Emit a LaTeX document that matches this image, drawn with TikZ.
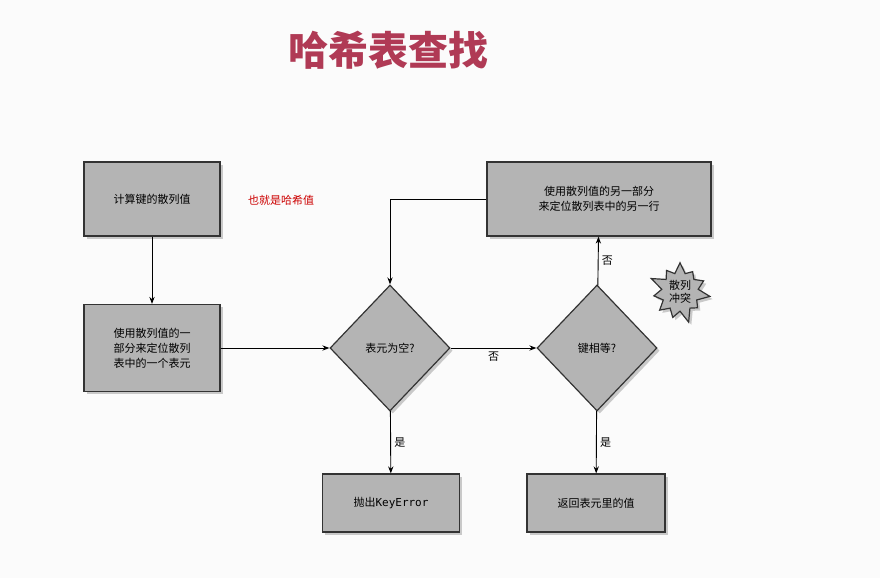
\documentclass[tikz,border=0pt]{standalone}
\usepackage{fontspec}
\setmainfont{Noto Sans CJK SC}
\setmonofont{DejaVu Sans Mono}
\usetikzlibrary{shapes.geometric,shapes.symbols,shadows,arrows.meta}
\definecolor{boxgray}{HTML}{B4B4B4}
\definecolor{titlered}{HTML}{B03A55}
\tikzset{
  box/.style = {draw=black!80, line width=1.2pt, fill=boxgray, drop shadow={opacity=0.4}, align=center, font=\fontsize{11}{15}\selectfont},
  choice/.style = {draw=black!80, line width=1.2pt, fill=boxgray, diamond, aspect=0.95, minimum width=120pt, minimum height=126pt, inner sep=0pt, drop shadow={opacity=0.4}, font=\fontsize{11}{15}\selectfont},
  flow/.style = {-{Stealth[length=7pt]}, line width=0.9pt},
  lbl/.style = {font=\fontsize{11}{13}\selectfont}
}
\begin{document}
\begin{tikzpicture}[x=1pt,y=-1pt]
\useasboundingbox[fill=white!97!gray] (0,0) rectangle (880,578);
\node[text=titlered, font=\bfseries\fontsize{40}{44}\selectfont] (title) at (388,50) {哈希表查找};

\node[box, minimum width=136pt, minimum height=74pt] (hash) at (152,199) {计算键的散列值};
\node[text=red!80!black, font=\fontsize{11}{13}\selectfont] (note) at (281,200) {也就是哈希值};
\node[box, minimum width=136pt, minimum height=87pt] (locate) at (152,348) {使用散列值的一\\部分来定位散列\\表中的一个表元};
\node[choice] (empty) at (390,348) {表元为空?};
\node[choice] (equal) at (597,348) {键相等?};
\node[box, minimum width=224pt, minimum height=74pt] (other) at (599,199) {使用散列值的另一部分\\来定位散列表中的另一行};
\node[box, starburst, starburst points=11, starburst point height=14pt, inner sep=2pt, lbl] (clash) at (680,292) {散列\\冲突};
\node[box, minimum width=137pt, minimum height=58pt] (error) at (391,503) {抛出\texttt{KeyError}};
\node[box, minimum width=138pt, minimum height=58pt] (value) at (596,503) {返回表元里的值};
\coordinate (corner) at (390,199);

\draw[flow] (hash) -- (locate);
\draw[flow] (locate) -- (empty);
\draw[flow] (empty) -- node[lbl, below] {否} (equal);
\draw[flow] (empty) -- node[lbl, right] {是} (error);
\draw[flow] (equal) -- node[lbl, right] {是} (value);
\draw[flow] (equal) -- node[lbl, right] {否} (other);
\draw[flow] (other) -- (corner) -- (empty);
\end{tikzpicture}
\end{document}
